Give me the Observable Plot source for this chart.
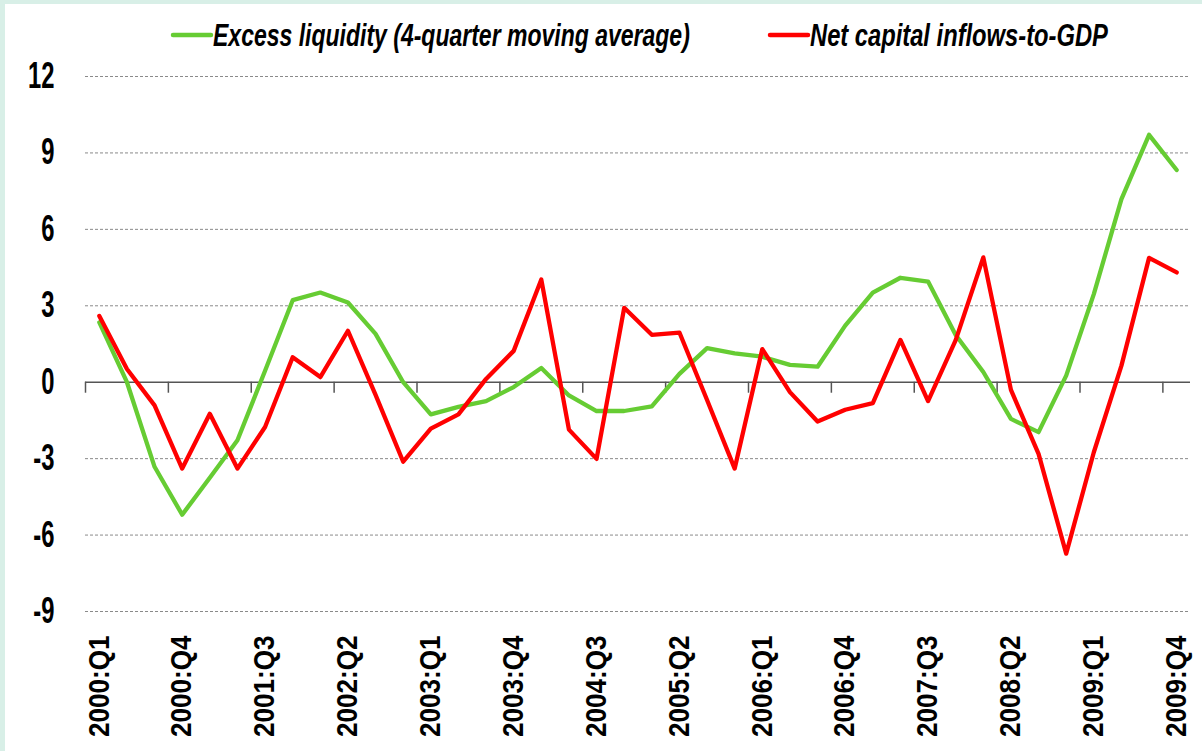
<!DOCTYPE html>
<html>
<head>
<meta charset="utf-8">
<script src="https://cdn.jsdelivr.net/npm/d3@7"></script>
<script src="https://cdn.jsdelivr.net/npm/@observablehq/plot@0.6"></script>
<style>
  html, body { margin: 0; padding: 0; background: #d8efe7; width: 1202px; height: 751px; overflow: hidden; }
  #wrap { position: absolute; left: 5px; top: 4px; width: 1197px; height: 747px; background: #ffffff; }
  #chart { position: absolute; left: 0; top: 36px; }
  #legend { position: absolute; left: 0; top: 0; }
</style>
</head>
<body>
<div id="wrap">
  <div id="chart"></div>
  <div id="legend"></div>
</div>
<script>
// ---- data ----
const quarters = [
  "2000:Q1","2000:Q2","2000:Q3","2000:Q4",
  "2001:Q1","2001:Q2","2001:Q3","2001:Q4",
  "2002:Q1","2002:Q2","2002:Q3","2002:Q4",
  "2003:Q1","2003:Q2","2003:Q3","2003:Q4",
  "2004:Q1","2004:Q2","2004:Q3","2004:Q4",
  "2005:Q1","2005:Q2","2005:Q3","2005:Q4",
  "2006:Q1","2006:Q2","2006:Q3","2006:Q4",
  "2007:Q1","2007:Q2","2007:Q3","2007:Q4",
  "2008:Q1","2008:Q2","2008:Q3","2008:Q4",
  "2009:Q1","2009:Q2","2009:Q3","2009:Q4"
];
const excessLiquidity = [
  2.35, 0.0, -3.32, -5.2, -3.75, -2.28, 0.45, 3.22, 3.52, 3.13,
  1.9, 0.0, -1.26, -0.97, -0.74, -0.19, 0.56, -0.52, -1.13, -1.13,
  -0.95, 0.33, 1.34, 1.13, 1.0, 0.68, 0.61, 2.22, 3.52, 4.1,
  3.95, 1.85, 0.4, -1.44, -1.96, 0.26, 3.46, 7.19, 9.71, 8.33
];
const netCapitalInflows = [
  2.6, 0.52, -0.91, -3.39, -1.24, -3.39, -1.76, 0.98, 0.2, 2.02,
  -0.5, -3.12, -1.82, -1.26, 0.13, 1.23, 4.03, -1.86, -3.01, 2.92,
  1.86, 1.95, -0.7, -3.39, 1.3, -0.39, -1.54, -1.08, -0.82, 1.66,
  -0.74, 1.65, 4.9, -0.3, -2.81, -6.73, -2.75, 0.65, 4.88, 4.31
];
const yTicks = [-9, -6, -3, 0, 3, 6, 9, 12];
const labelEvery = 3;
const seriesNames = ["Excess liquidity (4-quarter moving average)", "Net capital inflows-to-GDP"];
const seriesColors = ["#66cc33", "#ff0000"];

// ---- derived tables ----
const idx = quarters.map((q, i) => i);
const xTickIdx = idx.filter(i => i % labelEvery === 0);
const boundaries = xTickIdx.map(i => i - 0.5);
const green = idx.map(i => ({i, v: excessLiquidity[i]}));
const red = idx.map(i => ({i, v: netCapitalInflows[i]}));

// ---- chart ----
const chart = Plot.plot({
  width: 1197,
  height: 711,
  marginTop: 36,
  marginBottom: 140,
  marginLeft: 80,
  marginRight: 12,
  style: {fontFamily: "'Liberation Sans', Arial, sans-serif", background: "none", color: "#000"},
  x: {type: "linear", domain: [-0.5, quarters.length - 0.5]},
  y: {domain: [-9, 12]},
  marks: [
    Plot.gridY(yTicks.filter(t => t !== 0), {stroke: "#8a8a8a", strokeOpacity: 1, strokeDasharray: "3,2", strokeWidth: 1}),
    Plot.ruleY([0], {stroke: "#555", strokeWidth: 1.5}),
    Plot.ruleX(boundaries, {x: d => d, y1: 0, y2: 0, insetBottom: -11, stroke: "#555", strokeWidth: 1.5}),
    Plot.axisY({ticks: yTicks, tickFormat: d => String(d), tickSize: 0, tickPadding: 31, fontSize: 36, fontWeight: "bold", label: null}),
    Plot.axisX({ticks: xTickIdx, tickFormat: i => quarters[i], tickRotate: -90, tickSize: 0, tickPadding: 24, fontSize: 29, fontWeight: "bold", label: null}),
    Plot.line(green, {x: "i", y: "v", stroke: seriesColors[0], strokeWidth: 4.3}),
    Plot.line(red, {x: "i", y: "v", stroke: seriesColors[1], strokeWidth: 4.3})
  ]
});
document.getElementById("chart").appendChild(chart);

// condensed look for tick labels
chart.querySelectorAll('g[aria-label="y-axis tick label"] text').forEach(t => {
  t.setAttribute("transform", (t.getAttribute("transform") || "") + " scale(0.66,1)");
});
chart.querySelectorAll('g[aria-label="x-axis tick label"] text').forEach(t => {
  t.setAttribute("transform", (t.getAttribute("transform") || "") + " scale(0.9,1)");
});

// ---- legend ----
const leg = d3.select("#legend").append("svg")
  .attr("width", 1197).attr("height", 58)
  .style("font-family", "'Liberation Sans', Arial, sans-serif");
const legItems = [
  {x: 168, w: 477},
  {x: 765, w: 298}
];
legItems.forEach((it, k) => {
  leg.append("line")
    .attr("x1", it.x).attr("x2", it.x + 38)
    .attr("y1", 31).attr("y2", 31)
    .attr("stroke", seriesColors[k]).attr("stroke-width", 4.5)
    .attr("stroke-linecap", "round");
  const t = leg.append("text")
    .attr("font-size", 32).attr("font-style", "italic").attr("font-weight", "bold")
    .attr("fill", "#000")
    .text(seriesNames[k]);
  const natural = t.node().getComputedTextLength() || it.w;
  t.attr("transform", `translate(${it.x + 40},42) scale(${it.w / natural},1)`);
});
</script>
</body>
</html>
